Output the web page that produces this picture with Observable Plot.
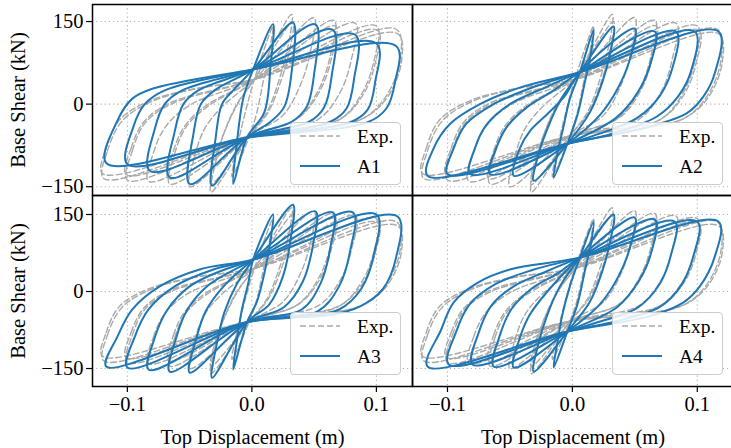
<!DOCTYPE html>
<html>
<head>
<meta charset="utf-8">
<script src="https://cdn.jsdelivr.net/npm/d3@7"></script>
<script src="https://cdn.jsdelivr.net/npm/@observablehq/plot@0.6"></script>
<style>
  body { margin: 0; background: white; }
  #fig { position: relative; width: 731px; height: 448px; overflow: hidden; background: white; font-family: "Liberation Serif", "DejaVu Serif", serif; }
  #fig > .panel { position: absolute; }
  #fig svg text { font-family: "Liberation Serif", serif !important; font-variant: normal !important; }
  .legend { position: absolute; box-sizing: border-box; border: 1px solid #cccccc; border-radius: 4px; background: rgba(255,255,255,0.85); }
</style>
</head>
<body>
<div id="fig"></div>
<script>
// ---------- data ----------
const xTicks = [-0.1, 0, 0.1];
const yTicks = [-150, 0, 150];
const modelNames = ["A1", "A2", "A3", "A4"];
const xLabel = "Top Displacement (m)";
const yLabel = "Base Shear (kN)";
const expName = "Exp.";

// Experimental loops [displacement (m), base shear (kN)]
const expLoops = [
  [[-0.016,-132],[-0.013,-90],[-0.008,-40],[-0.003,5],[0.002,45],[0.017,142],[0.014,95],[0.009,40],[0.004,-15],[-0.002,-58]],
  [[-0.033,-160],[-0.029,-105],[-0.022,-50],[-0.012,0],[0.002,45],[0.032,163],[0.029,105],[0.022,45],[0.012,-15],[-0.002,-58]],
  [[-0.033,-146],[-0.029,-95],[-0.021,-45],[-0.011,2],[0.002,45],[0.033,150],[0.03,95],[0.023,40],[0.013,-15],[-0.002,-58]],
  [[-0.05,-150],[-0.046,-95],[-0.038,-45],[-0.024,-5],[0.002,45],[0.05,157],[0.047,95],[0.039,35],[0.025,-20],[-0.002,-58]],
  [[-0.066,-145],[-0.062,-90],[-0.053,-42],[-0.036,-5],[0.002,45],[0.066,152],[0.063,88],[0.054,28],[0.037,-25],[-0.002,-58]],
  [[-0.067,-135],[-0.063,-85],[-0.054,-40],[-0.037,-3],[0.002,45],[0.067,142],[0.064,84],[0.055,26],[0.038,-24],[-0.002,-58]],
  [[-0.083,-140],[-0.079,-88],[-0.069,-40],[-0.05,-2],[0.002,45],[0.083,147],[0.08,82],[0.071,22],[0.053,-28],[-0.002,-58]],
  [[-0.1,-138],[-0.096,-85],[-0.086,-35],[-0.065,0],[0.002,45],[0.1,142],[0.098,78],[0.088,18],[0.069,-30],[-0.002,-58]],
  [[-0.101,-128],[-0.097,-80],[-0.087,-33],[-0.066,2],[0.002,45],[0.101,134],[0.099,74],[0.089,16],[0.07,-28],[-0.002,-58]],
  [[-0.119,-135],[-0.116,-85],[-0.104,-30],[-0.08,5],[-0.045,28],[0.002,45],[0.116,136],[0.119,80],[0.108,15],[0.09,-25],[0.055,-45],[-0.002,-58]],
  [[-0.12,-126],[-0.117,-80],[-0.106,-28],[-0.082,6],[-0.046,28],[0.002,45],[0.117,128],[0.12,76],[0.109,13],[0.091,-24],[0.056,-44],[-0.002,-58]]
];

// Model A1 loops
const a1Loops = [
  [[-0.015,-145],[-0.012,-70],[-0.007,10],[0.001,63],[0.017,145],[0.015,70],[0.01,-15],[-0.004,-61]],
  [[-0.032,-148],[-0.029,-60],[-0.024,0],[-0.015,25],[0.001,63],[0.033,148],[0.032,60],[0.026,-5],[0.015,-32],[-0.004,-61]],
  [[-0.05,-145],[-0.047,-55],[-0.041,0],[-0.03,25],[0.001,63],[0.051,145],[0.05,55],[0.044,-5],[0.032,-32],[-0.004,-61]],
  [[-0.066,-133],[-0.062,-50],[-0.055,0],[-0.043,25],[0.001,63],[0.065,135],[0.064,50],[0.058,-6],[0.046,-32],[-0.004,-61]],
  [[-0.082,-121],[-0.078,-45],[-0.07,0],[-0.056,25],[0.001,63],[0.083,126],[0.082,45],[0.076,-8],[0.063,-32],[-0.004,-61]],
  [[-0.1,-109],[-0.095,-40],[-0.086,0],[-0.07,25],[0.001,63],[0.1,110],[0.099,40],[0.093,-10],[0.079,-33],[-0.004,-61]],
  [[-0.117,-107],[-0.108,-30],[-0.096,10],[-0.08,28],[0.001,63],[0.116,105],[0.115,40],[0.108,-8],[0.093,-33],[-0.004,-61]]
];

// Model A2 loops
const a2Loops = [
  [[-0.015,-134],[-0.012,-90],[-0.007,-40],[-0.002,10],[0.006,58],[0.017,135],[0.015,95],[0.01,40],[0.004,-20],[-0.004,-72]],
  [[-0.031,-139],[-0.027,-90],[-0.02,-45],[-0.01,5],[0.006,58],[0.033,141],[0.03,90],[0.024,40],[0.014,-15],[-0.004,-72]],
  [[-0.047,-130],[-0.042,-80],[-0.034,-49],[-0.02,-18],[-0.006,15],[0.006,58],[0.05,137],[0.046,81],[0.036,27],[0.022,-20],[-0.004,-72]],
  [[-0.066,-127],[-0.061,-80],[-0.052,-40],[-0.036,-5],[-0.015,25],[0.006,58],[0.066,132],[0.062,70],[0.052,20],[0.035,-25],[-0.004,-72]],
  [[-0.082,-127],[-0.078,-80],[-0.069,-38],[-0.05,0],[-0.022,30],[0.006,58],[0.083,132],[0.08,65],[0.07,15],[0.052,-25],[0.02,-55],[-0.004,-72]],
  [[-0.1,-127],[-0.095,-80],[-0.085,-36],[-0.063,0],[-0.03,32],[0.006,58],[0.098,132],[0.095,60],[0.085,15],[0.068,-22],[0.03,-55],[-0.004,-72]],
  [[-0.116,-130],[-0.111,-80],[-0.098,-36],[-0.074,0],[-0.042,30],[0.006,58],[0.117,132],[0.114,56],[0.105,14],[0.092,-16],[0.06,-42],[-0.004,-72]]
];

// Model A3 loops
const a3Loops = [
  [[-0.015,-152],[-0.012,-95],[-0.008,-35],[-0.003,15],[0.001,62],[0.017,150],[0.015,100],[0.01,35],[0.004,-20],[-0.004,-60]],
  [[-0.032,-168],[-0.028,-100],[-0.022,-40],[-0.012,15],[0.001,62],[0.033,169],[0.031,100],[0.025,30],[0.014,-25],[-0.004,-60]],
  [[-0.05,-158],[-0.045,-95],[-0.037,-38],[-0.022,12],[0.001,62],[0.051,156],[0.049,90],[0.041,20],[0.026,-30],[-0.004,-60]],
  [[-0.066,-156],[-0.061,-92],[-0.052,-36],[-0.035,12],[0.001,62],[0.065,154],[0.063,85],[0.055,15],[0.04,-35],[-0.004,-60]],
  [[-0.083,-152],[-0.078,-90],[-0.068,-36],[-0.05,10],[-0.025,40],[0.001,62],[0.081,154],[0.079,80],[0.07,10],[0.053,-38],[-0.004,-60]],
  [[-0.1,-148],[-0.094,-88],[-0.083,-35],[-0.062,10],[-0.032,42],[0.001,62],[0.1,150],[0.098,72],[0.088,6],[0.07,-35],[0.035,-50],[-0.004,-60]],
  [[-0.117,-146],[-0.108,-88],[-0.096,-35],[-0.074,10],[-0.042,43],[0.001,62],[0.117,146],[0.116,68],[0.105,4],[0.087,-29],[0.065,-45],[-0.004,-60]]
];

// Model A4 loops
const a4Loops = [
  [[-0.015,-148],[-0.012,-100],[-0.008,-45],[-0.002,10],[0.006,66],[0.017,136],[0.015,95],[0.01,40],[0.004,-25],[-0.004,-78]],
  [[-0.031,-156],[-0.027,-100],[-0.02,-45],[-0.01,10],[0.006,66],[0.033,150],[0.03,95],[0.024,40],[0.014,-20],[-0.004,-78]],
  [[-0.047,-148],[-0.042,-90],[-0.034,-45],[-0.02,0],[0.006,66],[0.05,144],[0.046,85],[0.037,30],[0.022,-25],[-0.004,-78]],
  [[-0.063,-146],[-0.058,-85],[-0.049,-35],[-0.033,5],[-0.012,35],[0.006,66],[0.066,140],[0.063,75],[0.053,20],[0.036,-30],[-0.004,-78]],
  [[-0.08,-142],[-0.075,-80],[-0.065,-28],[-0.047,10],[-0.02,40],[0.006,66],[0.082,136],[0.079,72],[0.07,15],[0.052,-32],[0.02,-60],[-0.004,-78]],
  [[-0.099,-142],[-0.093,-78],[-0.082,-24],[-0.062,14],[-0.032,42],[0.006,66],[0.1,136],[0.097,70],[0.087,12],[0.07,-30],[0.035,-58],[-0.004,-78]],
  [[-0.116,-146],[-0.105,-74],[-0.095,-21],[-0.076,17],[-0.05,43],[0.006,66],[0.117,136],[0.114,68],[0.102,10],[0.089,-21],[0.062,-48],[-0.004,-78]]
];

// ---------- drawing ----------
const BLUE = "#1f77b4", GRAY = "#a9a9a9", FONT = "Liberation Serif";
const DASH = "6,3";
const FS = 20.5;
const xDomain = [-0.128, 0.129];
const topY = [-166, 181], botY = [-185, 187];

function rows(loops) {
  return loops.flatMap((loop, i) => loop.map(([x, y]) => ({x, y, loop: i})));
}

function panel({loops, left, top, width, height, mL, mT, mB, yDomain, showY, showX}) {
  const chart = Plot.plot({
    width, height,
    marginLeft: mL, marginRight: 0, marginTop: mT, marginBottom: mB,
    x: {domain: xDomain, axis: null},
    y: {domain: yDomain, axis: null},
    style: {fontFamily: FONT, fontSize: FS + "px", background: "transparent", overflow: "visible", color: "black"},
    marks: [
      Plot.gridX(xTicks, {stroke: "#b0b0b0", strokeOpacity: 1, strokeWidth: 1.1, strokeDasharray: "1.2,3"}),
      Plot.gridY(yTicks, {stroke: "#b0b0b0", strokeOpacity: 1, strokeWidth: 1.1, strokeDasharray: "1.2,3"}),
      Plot.line(rows(expLoops), {x: "x", y: "y", z: "loop", curve: "catmull-rom-closed",
        stroke: GRAY, strokeWidth: 1.4, strokeDasharray: DASH}),
      Plot.line(rows(loops), {x: "x", y: "y", z: "loop", curve: "catmull-rom-closed",
        stroke: BLUE, strokeWidth: 2}),
      Plot.frame({stroke: "black", strokeWidth: 1.5}),
      showY ? Plot.axisY(yTicks, {anchor: "left", tickSize: 6, tickPadding: 3, strokeWidth: 1.2, label: null,
        tickFormat: d3.format("d"), fontFamily: FONT, fontSize: FS}) : null,
      showY ? Plot.text([yLabel], {frameAnchor: "left", dx: -74, rotate: -90, textAnchor: "middle",
        lineAnchor: "middle", fontFamily: FONT, fontSize: FS}) : null,
      showX ? Plot.axisX(xTicks, {anchor: "bottom", tickSize: 6, tickPadding: 4, strokeWidth: 1.2, label: null,
        tickFormat: d3.format(".1f"), fontFamily: FONT, fontSize: FS}) : null,
      showX ? Plot.text([xLabel], {frameAnchor: "bottom", dy: 51, textAnchor: "middle", lineAnchor: "middle",
        fontFamily: FONT, fontSize: FS}) : null
    ]
  });
  chart.classList.add("panel");
  chart.style.left = left + "px";
  chart.style.top = top + "px";
  return chart;
}

function legend(name, left, top) {
  const div = document.createElement("div");
  div.className = "legend";
  div.style.left = left + "px";
  div.style.top = top + "px";
  div.style.width = "111px";
  div.style.height = "63px";
  const svg = d3.create("svg").attr("width", 109).attr("height", 61)
    .style("position", "absolute").style("left", "0px").style("top", "0px")
    .attr("font-family", FONT).attr("font-size", 19.5);
  svg.append("line").attr("x1", 9).attr("x2", 49).attr("y1", 13).attr("y2", 13)
    .attr("stroke", GRAY).attr("stroke-width", 1.4).attr("stroke-dasharray", DASH);
  svg.append("text").attr("x", 66).attr("y", 19.5).text(expName);
  svg.append("line").attr("x1", 9).attr("x2", 49).attr("y1", 43).attr("y2", 43)
    .attr("stroke", BLUE).attr("stroke-width", 2);
  svg.append("text").attr("x", 66).attr("y", 49.5).text(name);
  div.appendChild(svg.node());
  return div;
}

const fig = document.getElementById("fig");
const allLoops = [a1Loops, a2Loops, a3Loops, a4Loops];
fig.appendChild(panel({loops: allLoops[0], left: 0, top: 0, width: 412, height: 195, mL: 92, mT: 4, mB: 0, yDomain: topY, showY: true, showX: false}));
fig.appendChild(panel({loops: allLoops[1], left: 412, top: 0, width: 321, height: 195, mL: 0, mT: 4, mB: 0, yDomain: topY, showY: false, showX: false}));
fig.appendChild(panel({loops: allLoops[2], left: 0, top: 195, width: 412, height: 253, mL: 92, mT: 0, mB: 62, yDomain: botY, showY: true, showX: true}));
fig.appendChild(panel({loops: allLoops[3], left: 412, top: 195, width: 321, height: 253, mL: 0, mT: 0, mB: 62, yDomain: botY, showY: false, showX: true}));
fig.appendChild(legend(modelNames[0], 290, 122));
fig.appendChild(legend(modelNames[1], 612, 122));
fig.appendChild(legend(modelNames[2], 290, 312));
fig.appendChild(legend(modelNames[3], 612, 312));
</script>
</body>
</html>
